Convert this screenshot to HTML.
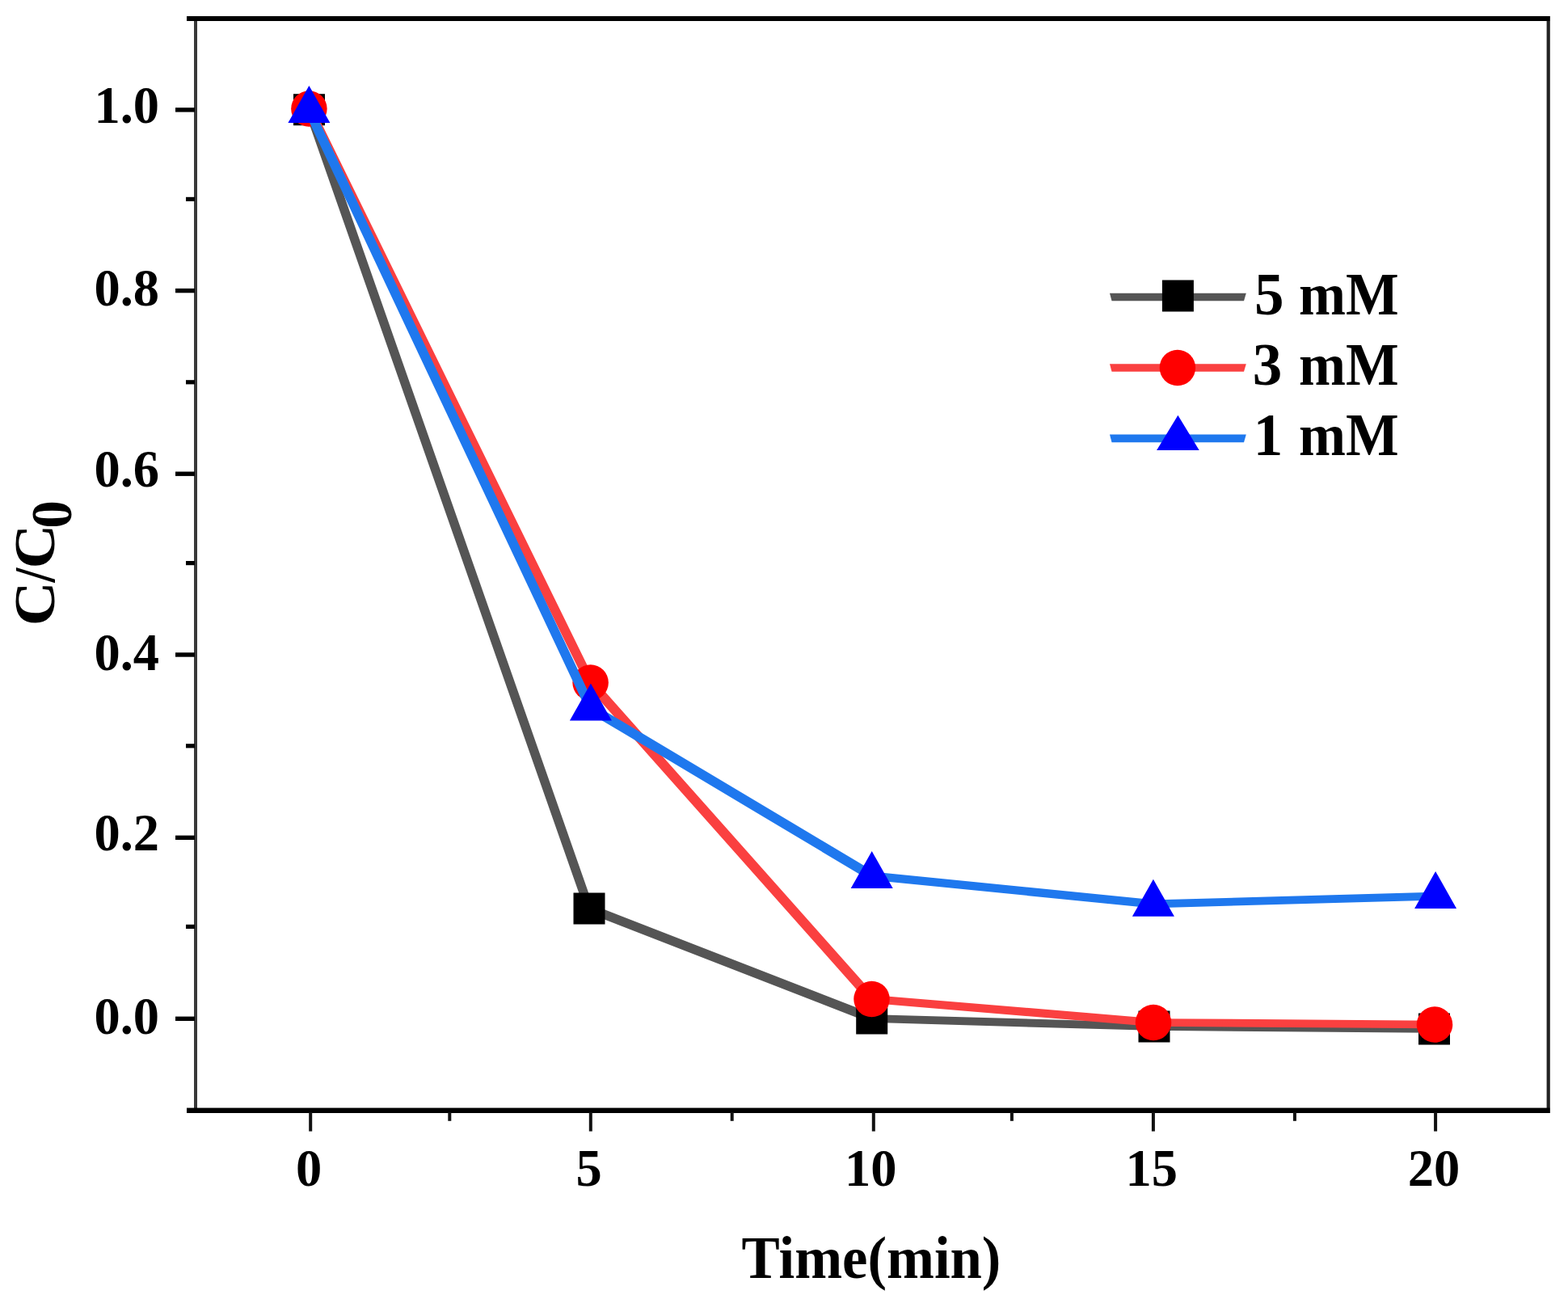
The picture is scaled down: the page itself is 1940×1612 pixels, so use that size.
<!DOCTYPE html>
<html><head><meta charset="utf-8"><title>C/C0 vs Time</title>
<style>
html,body{margin:0;padding:0;background:#fff;}
body{width:1940px;height:1612px;overflow:hidden;}
svg{display:block;}
text{font-family:'Liberation Serif', 'Times New Roman', serif;font-weight:bold;fill:#000;}
</style></head><body>
<svg width="1940" height="1612" viewBox="0 0 1940 1612">
<rect width="1940" height="1612" fill="#fff"/>
<rect x="240" y="20" width="4" height="1357" fill="#383838"/>
<rect x="1913.6" y="20" width="4.2" height="1357" fill="#222"/>
<rect x="231" y="20" width="1686.5" height="6" fill="#000"/>
<rect x="231" y="1370.6" width="1686.5" height="6.4" fill="#000"/>
<rect x="217" y="133.2" width="24" height="5.4" fill="#000"/>
<rect x="217" y="356.9" width="24" height="5.4" fill="#000"/>
<rect x="217" y="583.5" width="24" height="5.4" fill="#000"/>
<rect x="217" y="807.3" width="24" height="5.4" fill="#000"/>
<rect x="217" y="1033.6" width="24" height="5.4" fill="#000"/>
<rect x="217" y="1257.6" width="24" height="5.4" fill="#000"/>
<rect x="230" y="243.8" width="11" height="5.2" fill="#000"/>
<rect x="230" y="470.2" width="11" height="5.2" fill="#000"/>
<rect x="230" y="694" width="11" height="5.2" fill="#000"/>
<rect x="230" y="920.2" width="11" height="5.2" fill="#000"/>
<rect x="230" y="1143.8" width="11" height="5.2" fill="#000"/>
<rect x="382.2" y="1376" width="4" height="23.6" fill="#111"/>
<rect x="728.8" y="1376" width="4" height="23.6" fill="#111"/>
<rect x="1078.8" y="1376" width="4" height="23.6" fill="#111"/>
<rect x="1424.9" y="1376" width="4" height="23.6" fill="#111"/>
<rect x="1774.1" y="1376" width="4" height="23.6" fill="#111"/>
<rect x="554.3" y="1376" width="4" height="10.8" fill="#111"/>
<rect x="903.7" y="1376" width="4" height="10.8" fill="#111"/>
<rect x="1249.9" y="1376" width="4" height="10.8" fill="#111"/>
<rect x="1599.9" y="1376" width="4" height="10.8" fill="#111"/>
<g fill="#555555" stroke="#555555" stroke-width="3.7" stroke-linejoin="round"><polygon points="379.5,132.7 385.5,132.7 732,1121 732,1127 726,1127 379.5,138.7"/><polygon points="726,1121 732,1121 1081.7,1257 1081.7,1263 1075.7,1263 726,1127"/><polygon points="1075.7,1257 1081.7,1257 1431,1267 1431,1273 1425,1273 1075.7,1263"/><polygon points="1425,1267 1431,1267 1777.5,1270 1777.5,1276 1771.5,1276 1425,1273"/></g>
<rect x="363" y="116.2" width="39" height="39" fill="#000"/>
<rect x="709.5" y="1104.5" width="39" height="39" fill="#000"/>
<rect x="1059.2" y="1240.5" width="39" height="39" fill="#000"/>
<rect x="1408.5" y="1250.5" width="39" height="39" fill="#000"/>
<rect x="1755" y="1253.5" width="39" height="39" fill="#000"/>
<g fill="#fa4040" stroke="#fa4040" stroke-width="3.7" stroke-linejoin="round"><polygon points="379.4,131.5 385.4,131.5 733.6,841.5 733.6,847.5 727.6,847.5 379.4,137.5"/><polygon points="727.6,841.5 733.6,841.5 1081.5,1233 1081.5,1239 1075.5,1239 727.6,847.5"/><polygon points="1075.5,1233 1081.5,1233 1430,1262 1430,1268 1424,1268 1075.5,1239"/><polygon points="1424,1262 1430,1262 1778,1264.5 1778,1270.5 1772,1270.5 1424,1268"/></g>
<circle cx="382.4" cy="134.5" r="22.25" fill="#f00"/>
<circle cx="730.6" cy="844.5" r="22.25" fill="#f00"/>
<circle cx="1078.5" cy="1236" r="22.25" fill="#f00"/>
<circle cx="1427" cy="1265" r="22.25" fill="#f00"/>
<circle cx="1775" cy="1267.5" r="22.25" fill="#f00"/>
<g fill="#1f78ee" stroke="#1f78ee" stroke-width="3.7" stroke-linejoin="round"><polygon points="379.4,133.7 385.4,133.7 733.9,873.1 733.9,879.1 727.9,879.1 379.4,139.7"/><polygon points="727.9,873.1 733.9,873.1 1081.7,1080.6 1081.7,1086.6 1075.7,1086.6 727.9,879.1"/><polygon points="1075.7,1080.6 1081.7,1080.6 1429.9,1115.4 1429.9,1121.4 1423.9,1121.4 1075.7,1086.6"/><polygon points="1423.9,1115.4 1773.1,1105.6 1779.1,1105.6 1779.1,1111.6 1429.9,1121.4 1423.9,1121.4"/></g>
<polygon points="382.4,106.03 356.4,152.03 408.4,152.03" fill="#00f"/>
<polygon points="730.9,845.43 704.9,891.43 756.9,891.43" fill="#00f"/>
<polygon points="1078.7,1052.93 1052.7,1098.93 1104.7,1098.93" fill="#00f"/>
<polygon points="1426.9,1087.73 1400.9,1133.73 1452.9,1133.73" fill="#00f"/>
<polygon points="1776.1,1077.93 1750.1,1123.93 1802.1,1123.93" fill="#00f"/>
<polygon points="1373,362.7 1541.8,362.7 1539,372.3 1375.5,372.3" fill="#555555"/>
<rect x="1437.9" y="346.5" width="39" height="39" fill="#000"/>
<text x="1552" y="388.6" font-size="73">5</text>
<text x="1607.1" y="388.6" font-size="73" textLength="123.6" lengthAdjust="spacingAndGlyphs">mM</text>
<polygon points="1373,450.2 1541.8,450.2 1539,459.8 1375.5,459.8" fill="#fa4040"/>
<circle cx="1456.9" cy="455" r="22.25" fill="#f00"/>
<text x="1549.7" y="476" font-size="73">3</text>
<text x="1607.1" y="476" font-size="73" textLength="123.6" lengthAdjust="spacingAndGlyphs">mM</text>
<polygon points="1373,537.6 1541.8,537.6 1539,547.2 1375.5,547.2" fill="#1f78ee"/>
<polygon points="1457.4,513.8 1431.1,557.1 1483.7,557.1" fill="#00f"/>
<text x="1550.7" y="563.1" font-size="73">1</text>
<text x="1607.1" y="563.1" font-size="73" textLength="123.6" lengthAdjust="spacingAndGlyphs">mM</text>
<text x="197" y="152.25" font-size="64.5" text-anchor="end">1.0</text>
<text x="197" y="378.45" font-size="64.5" text-anchor="end">0.8</text>
<text x="197" y="602.15" font-size="64.5" text-anchor="end">0.6</text>
<text x="197" y="828.75" font-size="64.5" text-anchor="end">0.4</text>
<text x="197" y="1052.15" font-size="64.5" text-anchor="end">0.2</text>
<text x="197" y="1279.2" font-size="64.5" text-anchor="end">0.0</text>
<text x="382.2" y="1466.8" font-size="64.5" text-anchor="middle">0</text>
<text x="728.7" y="1466.8" font-size="64.5" text-anchor="middle">5</text>
<text x="1077.3" y="1466.8" font-size="64.5" text-anchor="middle">10</text>
<text x="1424.7" y="1466.8" font-size="64.5" text-anchor="middle">15</text>
<text x="1773.9" y="1466.8" font-size="64.5" text-anchor="middle">20</text>
<text transform="translate(1078,1580.5) scale(0.969,1)" font-size="73" text-anchor="middle">Time(min)</text>
<text transform="translate(67.1,747) rotate(-90) scale(1.06,1)" font-size="71.5" text-anchor="middle">C</text>
<text transform="translate(67.1,711.6) rotate(-90) scale(0.9,1)" font-size="71.5" text-anchor="middle">/</text>
<text transform="translate(67.1,676.2) rotate(-90) scale(1.06,1)" font-size="71.5" text-anchor="middle">C</text>
<text transform="translate(88.2,636.5) rotate(-90) scale(0.97,1)" font-size="71.5" text-anchor="middle">0</text>
</svg>
</body></html>
